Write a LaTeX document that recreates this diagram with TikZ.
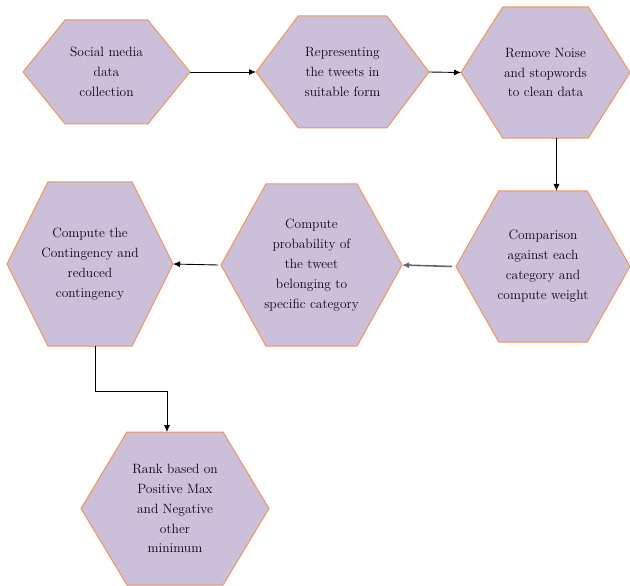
\documentclass[tikz,border=0pt]{standalone}
\usetikzlibrary{shapes.symbols, arrows.meta}
\definecolor{hexfill}{RGB}{203,191,217}
\definecolor{hexline}{RGB}{238,150,88}
\definecolor{hextext}{RGB}{10,5,25}

\begin{document}
\begin{tikzpicture}[x=1bp, y=-1bp,
  every node/.style={font=\fontsize{13.5}{20}\selectfont},
  hexbox/.style={signal, signal to=east and west, draw=hexline, fill=hexfill,
    line width=1bp, align=center, inner ysep=0pt, inner xsep=-30bp, outer sep=0pt,
    text=hextext},
  flow/.style={-{Latex[length=7bp,width=6bp]}, line width=0.9bp}]

  \useasboundingbox (0,0) rectangle (630,586);

  % Top row
  \node [hexbox, minimum width=167bp, minimum height=104bp, signal pointer angle=102]
    (h1) at (106.5,72) {Social media\\data\\collection};
  \node [hexbox, minimum width=173bp, minimum height=112bp, signal pointer angle=106]
    (h2) at (342.5,72) {Representing\\the tweets in\\suitable form};
  \node [hexbox, minimum width=169bp, minimum height=131bp, signal pointer angle=115]
    (h3) at (545.5,72.5) {Remove Noise\\and stopwords\\to clean data};

  % Middle row
  \node [hexbox, minimum width=174bp, minimum height=151bp, signal pointer angle=121]
    (h4) at (543,266.5) {Comparison\\against each\\category and\\compute weight};
  \node [hexbox, minimum width=181bp, minimum height=162bp, signal pointer angle=122]
    (h5) at (311.5,265) {Compute\\probability of\\the tweet\\belonging to\\specific category};
  \node [hexbox, minimum width=166bp, minimum height=164bp, signal pointer angle=127]
    (h6) at (90,264) {Compute the\\Contingency and\\reduced\\contingency};

  % Bottom
  \node [hexbox, minimum width=188bp, minimum height=153bp, signal pointer angle=118]
    (h7) at (175,508.5) {Rank based on\\Positive Max\\and Negative\\other\\minimum};

  % Arrows
  \draw [flow] (h1.east) -- (h2.west);
  \draw [flow] (h2.east) -- (h3.west);
  \draw [flow] ([xshift=11bp]h3.south) -- ([xshift=11bp]h3.south |- h4.north);
  \draw [flow, draw=black!60, line width=1.6bp] ([xshift=-4bp]h4.west) -- (h5.east);
  \draw [flow] ([xshift=-3bp]h5.west) -- (h6.east);
  \draw [flow] ([xshift=5bp]h6.south) -- ++(0,45) -| ([xshift=-8bp]h7.north);
\end{tikzpicture}
\end{document}
